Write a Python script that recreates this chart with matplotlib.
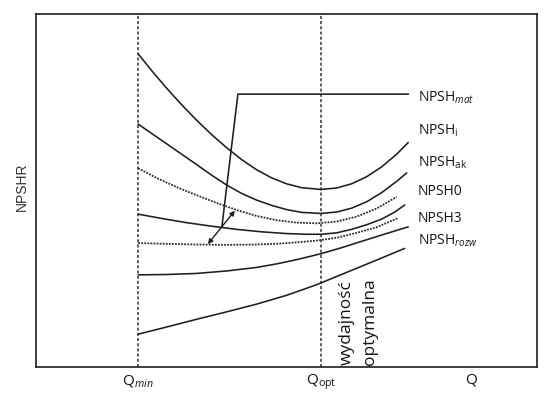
import matplotlib
matplotlib.use("Agg")
import matplotlib.pyplot as plt

plt.rcParams['font.family'] = ['Open Sans', 'DejaVu Sans']
plt.rcParams['mathtext.fontset'] = 'custom'
plt.rcParams['mathtext.rm'] = 'Open Sans'
plt.rcParams['mathtext.it'] = 'Open Sans:italic'

# ---- data (Q and NPSHR in relative units, 0..100) ----
q_min = 20.4
q_opt = 56.9

npsh_i_q = [20.4, 23, 26, 29, 32, 35, 38, 41, 44, 47, 50, 53, 56.9, 60, 63, 66, 69, 72, 74.3]
npsh_i_h = [88.7, 84.1, 79.1, 74.4, 70.0, 65.9, 62.2, 58.8, 55.9, 53.6, 51.9, 50.8, 50.3,
            50.7, 51.9, 53.9, 56.7, 60.3, 63.6]

npsh_ak_q = [20.4, 26, 32, 35, 38, 41, 44, 47, 50, 53, 56.9, 60, 63, 66, 69, 72, 74.0]
npsh_ak_h = [68.8, 63.3, 57.4, 54.4, 51.6, 49.2, 47.3, 45.8, 44.6, 43.8, 43.5,
             43.9, 45.0, 46.8, 49.4, 52.6, 55.0]

npsh0_q = [20.4, 24, 28, 32, 36, 40, 44, 48, 52, 56, 60, 64, 68, 72.0]
npsh0_h = [56.3, 53.6, 51.0, 48.7, 46.5, 44.5, 42.8, 41.6, 40.9, 40.7, 41.2, 42.6, 44.9, 48.2]

npsh_mid_q = [20.4, 25, 30, 35, 40, 45, 50, 54, 57, 60, 63, 66, 69, 71.5, 73.6]
npsh_mid_h = [43.3, 42.1, 40.9, 39.9, 39.0, 38.3, 37.8, 37.6, 37.6, 38.0, 39.0, 40.3, 41.9,
              43.8, 45.9]

npsh3_q = [20.4, 26, 32, 38, 44, 48, 52, 56, 60, 64, 68, 72.3]
npsh3_h = [35.1, 34.9, 34.7, 34.6, 34.7, 34.9, 35.3, 35.8, 36.6, 38.0, 39.6, 42.2]

npsh_rozw_q = [20.4, 26, 32, 38, 44, 48, 52, 56.9, 61, 65, 69.7, 74.3]
npsh_rozw_h = [26.1, 26.2, 26.5, 27.2, 28.2, 29.2, 30.4, 32.1, 33.8, 35.6, 37.7, 39.7]

npsh_low_q = [20.4, 26, 32, 38, 44, 50, 56, 62, 68, 73.6]
npsh_low_h = [9.3, 11.3, 13.5, 15.6, 17.8, 20.3, 23.3, 26.8, 30.3, 33.6]

label_texts = [r'NPSH$_{\mathit{mat}}$', r'NPSH$_{\mathrm{i}}$', r'NPSH$_{\mathrm{ak}}$',
               'NPSH0', 'NPSH3', r'NPSH$_{\mathit{rozw}}$']
label_y = [75.1, 65.7, 56.9, 48.6, 41.1, 34.6]

xtick_pos = [q_min, q_opt, 86.8]
xtick_labels = [r'Q$_{\mathit{min}}$', r'Q$_{\mathrm{opt}}$', 'Q']

# ---- figure ----
fig = plt.figure(figsize=(5.46, 3.93), dpi=100)
ax = fig.add_axes([36/546, 26/393, 501/546, 353/393])
ax.set_xlim(0, 100)
ax.set_ylim(0, 100)

lc = '#1e1e1e'
solid = dict(color=lc, lw=1.15, solid_capstyle='round', solid_joinstyle='round')
dotted = dict(color='#2a2a2a', lw=1.3, linestyle=(0, (1, 0.7)))

ax.axvline(q_min, color='#333333', lw=1.1, linestyle=(0, (2, 1.4)))
ax.axvline(q_opt, color='#333333', lw=1.1, linestyle=(0, (2, 1.4)))

ax.plot(npsh_i_q, npsh_i_h, **solid)
ax.plot(npsh_ak_q, npsh_ak_h, **solid)
ax.plot(npsh0_q, npsh0_h, **dotted)
ax.plot(npsh_mid_q, npsh_mid_h, **solid)
ax.plot(npsh3_q, npsh3_h, **dotted)
ax.plot(npsh_rozw_q, npsh_rozw_h, **solid)
ax.plot(npsh_low_q, npsh_low_h, **solid)

# margin arrow and leader line
ax.annotate('', xy=(34.3, 34.8), xytext=(39.7, 44.3),
            arrowprops=dict(arrowstyle='<|-|>', lw=1.0, color=lc,
                            mutation_scale=7, shrinkA=0, shrinkB=0))
ax.plot([37.1, 40.3, 74.3], [39.7, 77.3, 77.3], color=lc, lw=1.15)

for t, y in zip(label_texts, label_y):
    ax.text(76.2, y, t, fontsize=10, color='#151515', va='baseline', ha='left')

ax.text(62.0, 0.6, 'wydajność', rotation=90, ha='center', va='bottom',
        fontsize=12.5, color='#151515')
ax.text(66.6, 0.6, 'optymalna', rotation=90, ha='center', va='bottom',
        fontsize=12.5, color='#151515')

ax.set_xticks(xtick_pos)
ax.set_xticklabels(xtick_labels, fontsize=11, color='#151515')
ax.tick_params(axis='x', length=0, pad=4)
ax.set_yticks([])

for s in ax.spines.values():
    s.set_linewidth(1.2)
    s.set_color(lc)

fig.text(22/546, 1 - 187/393, 'NPSHR', rotation=90, ha='center', va='center',
         fontsize=10, color='#333333', family=['Liberation Sans', 'DejaVu Sans'])

fig.savefig('out.png', dpi=100)
